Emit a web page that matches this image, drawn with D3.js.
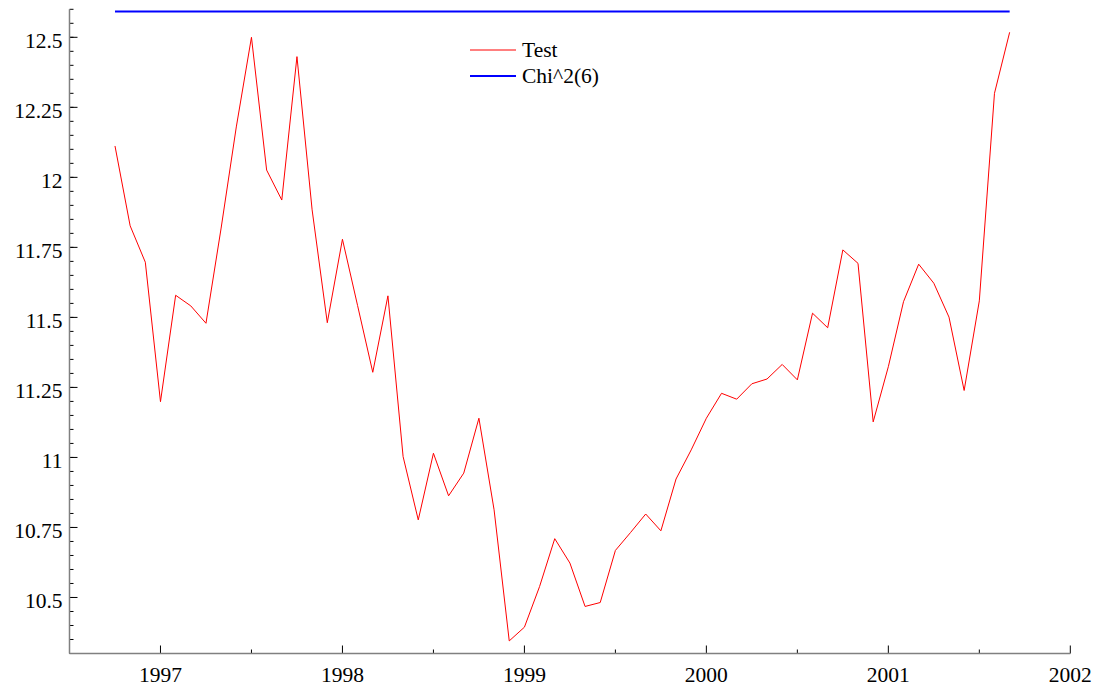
<!DOCTYPE html>
<html><head><meta charset="utf-8">
<script src="https://cdn.jsdelivr.net/npm/d3@7"></script>
<style>
body{margin:0;background:#fff;}
svg text{font-family:"Liberation Serif","Times New Roman",Times,serif;}
</style></head>
<body><svg id="c" width="1101" height="690"></svg>
<script>
// Monthly series, Oct 1996 .. Sep 2001
const startYear = 1996, startMonth = 10;
const testValues = [
 12.112, 11.827, 11.697, 11.199, 11.579, 11.541, 11.479, 11.819, 12.180, 12.500,
 12.026, 11.919, 12.431, 11.884, 11.481, 11.779, 11.542, 11.304, 11.577, 11.003,
 10.777, 11.015, 10.863, 10.944, 11.140, 10.813, 10.345, 10.394, 10.539, 10.710,
 10.623, 10.468, 10.482, 10.668, 10.732, 10.798, 10.738, 10.923, 11.027, 11.140,
 11.229, 11.208, 11.263, 11.280, 11.332, 11.277, 11.515, 11.463, 11.741, 11.693,
 11.127, 11.324, 11.556, 11.690, 11.622, 11.501, 11.239, 11.559, 12.300, 12.518
];
const chiCritical = 12.592;
const seriesNames = ["Test", "Chi^2(6)"];
const seriesColors = ["#ff0000", "#0000ff"];
const xTickYears = [1997, 1998, 1999, 2000, 2001, 2002];
const yTickValues = [10.5, 10.75, 11, 11.25, 11.5, 11.75, 12, 12.25, 12.5];
const yTickLabels = ["10.5", "10.75", "11", "11.25", "11.5", "11.75", "12", "12.25", "12.5"];

const FONT = '"Liberation Serif", "Times New Roman", serif';
const dates = testValues.map((v, i) => startYear + (startMonth - 1 + i) / 12);
const data = testValues.map((v, i) => ({x: dates[i], y: v}));

const svg = d3.select("#c");
const pL = 69.5, pR = 1070.3, pT = 9.3, pB = 653.5;
const x = d3.scaleLinear().domain([1996.5, 2002]).range([pL, pR]);
const y = d3.scaleLinear().domain([10.3, 12.6]).range([pB, pT]);

const axisColor = "#808080";
// X minor ticks
const xMinor = d3.range(1997.5, 2002, 1);
svg.append("g").selectAll("line").data(xMinor).join("line")
  .attr("x1", d => x(d)).attr("x2", d => x(d))
  .attr("y1", pB).attr("y2", pB - 4)
  .attr("stroke", "#000").attr("stroke-width", 1);
svg.append("g").selectAll("line").data(xTickYears).join("line")
  .attr("x1", d => x(d)).attr("x2", d => x(d))
  .attr("y1", pB).attr("y2", pB - 8)
  .attr("stroke", "#000").attr("stroke-width", 1);
svg.append("g").selectAll("text").data(xTickYears).join("text")
  .attr("x", d => x(d)).attr("y", 681.5)
  .attr("text-anchor", "middle").attr("font-size", 21.5).attr("font-family", FONT).attr("fill", "#000")
  .text(d => d);

// Y minor ticks
const yMinor = d3.range(0, 47).map(i => 10.3 + i * 0.05).filter(v => v <= 12.6001);
svg.append("g").selectAll("line").data(yMinor).join("line")
  .attr("x1", pL).attr("x2", pL + 4)
  .attr("y1", d => y(d)).attr("y2", d => y(d))
  .attr("stroke", "#000").attr("stroke-width", 1);
svg.append("g").selectAll("line").data(yTickValues).join("line")
  .attr("x1", pL).attr("x2", pL + 8)
  .attr("y1", d => y(d)).attr("y2", d => y(d))
  .attr("stroke", "#000").attr("stroke-width", 1);
svg.append("g").selectAll("text").data(yTickValues).join("text")
  .attr("x", 62.5).attr("y", d => y(d) + 3).attr("dy", "0.35em")
  .attr("text-anchor", "end").attr("font-size", 21.5).attr("font-family", FONT).attr("fill", "#000")
  .text((d, i) => yTickLabels[i]);

// axes lines
svg.append("line").attr("x1", pL).attr("x2", pL).attr("y1", pT).attr("y2", pB)
  .attr("stroke", axisColor).attr("stroke-width", 1.5);
svg.append("line").attr("x1", pL).attr("x2", pR).attr("y1", pB).attr("y2", pB)
  .attr("stroke", axisColor).attr("stroke-width", 1.5);

// Chi^2 line
svg.append("line")
  .attr("x1", x(dates[0])).attr("x2", x(dates[dates.length - 1]))
  .attr("y1", y(chiCritical)).attr("y2", y(chiCritical))
  .attr("stroke", seriesColors[1]).attr("stroke-width", 2);

// Test line
svg.append("path").datum(data)
  .attr("d", d3.line().x(d => x(d.x)).y(d => y(d.y)))
  .attr("fill", "none").attr("stroke", seriesColors[0]).attr("stroke-width", 1);

// Legend
const lg = svg.append("g");
seriesNames.forEach((name, i) => {
  const ly = 50 + i * 26;
  lg.append("line").attr("x1", 470).attr("x2", 516).attr("y1", ly).attr("y2", ly)
    .attr("stroke", seriesColors[i]).attr("stroke-width", i === 0 ? 1 : 2);
  lg.append("text").attr("x", 522).attr("y", ly).attr("dy", "0.33em")
    .attr("font-size", 21.5).attr("font-family", FONT).attr("fill", "#000").text(name);
});
</script></body></html>
